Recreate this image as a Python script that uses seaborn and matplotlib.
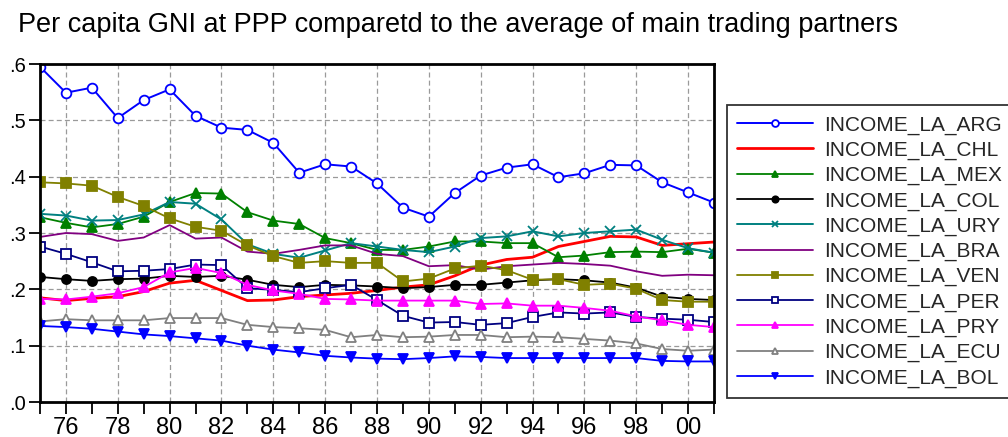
import numpy as np
import pandas as pd
import matplotlib
matplotlib.use("Agg")
import matplotlib.pyplot as plt
import seaborn as sns
from matplotlib.ticker import FixedLocator, FuncFormatter

years = list(range(1975, 2002))

income_la_arg = [0.595, 0.549, 0.558, 0.504, 0.536, 0.555, 0.508, 0.487, 0.483,
                 0.460, 0.407, 0.422, 0.418, 0.388, 0.345, 0.329, 0.371, 0.402,
                 0.416, 0.422, 0.399, 0.406, 0.421, 0.420, 0.390, 0.372, 0.354]
income_la_chl = [0.185, 0.180, 0.184, 0.187, 0.196, 0.211, 0.216, 0.198, 0.180,
                 0.181, 0.187, 0.190, 0.193, 0.198, 0.204, 0.208, 0.224, 0.243,
                 0.253, 0.257, 0.276, 0.285, 0.294, 0.293, 0.278, 0.281, 0.284]
income_la_mex = [0.328, 0.318, 0.310, 0.316, 0.329, 0.355, 0.371, 0.370, 0.337,
                 0.322, 0.316, 0.291, 0.282, 0.270, 0.270, 0.276, 0.285, 0.285,
                 0.282, 0.282, 0.257, 0.260, 0.266, 0.267, 0.266, 0.272, 0.265]
income_la_col = [0.222, 0.218, 0.215, 0.218, 0.219, 0.224, 0.222, 0.224, 0.217,
                 0.208, 0.204, 0.208, 0.207, 0.205, 0.202, 0.204, 0.208, 0.208,
                 0.212, 0.216, 0.218, 0.216, 0.212, 0.203, 0.187, 0.183, 0.181]
income_la_ury = [0.334, 0.331, 0.322, 0.323, 0.333, 0.355, 0.352, 0.324, 0.280,
                 0.263, 0.256, 0.269, 0.282, 0.276, 0.270, 0.266, 0.276, 0.291,
                 0.294, 0.303, 0.294, 0.300, 0.303, 0.306, 0.288, 0.273, 0.265]
income_la_bra = [0.293, 0.300, 0.298, 0.286, 0.292, 0.314, 0.290, 0.292, 0.267,
                 0.263, 0.270, 0.278, 0.278, 0.263, 0.259, 0.241, 0.243, 0.235,
                 0.241, 0.244, 0.247, 0.245, 0.242, 0.232, 0.224, 0.226, 0.225]
income_la_ven = [0.390, 0.388, 0.384, 0.364, 0.348, 0.326, 0.311, 0.304, 0.278,
                 0.259, 0.247, 0.250, 0.247, 0.247, 0.214, 0.219, 0.237, 0.242,
                 0.234, 0.217, 0.218, 0.208, 0.210, 0.201, 0.181, 0.178, 0.178]
income_la_per = [0.276, 0.263, 0.248, 0.232, 0.233, 0.236, 0.244, 0.243, 0.202,
                 0.199, 0.195, 0.202, 0.208, 0.181, 0.153, 0.141, 0.142, 0.137,
                 0.140, 0.151, 0.159, 0.157, 0.159, 0.151, 0.148, 0.146, 0.142]
income_la_pry = [0.183, 0.182, 0.187, 0.193, 0.204, 0.230, 0.238, 0.229, 0.208,
                 0.198, 0.192, 0.183, 0.182, 0.180, 0.180, 0.180, 0.180, 0.174,
                 0.175, 0.171, 0.171, 0.167, 0.162, 0.152, 0.145, 0.137, 0.133]
income_la_ecu = [0.143, 0.147, 0.145, 0.145, 0.145, 0.149, 0.149, 0.149, 0.137,
                 0.133, 0.131, 0.128, 0.115, 0.119, 0.115, 0.116, 0.119, 0.119,
                 0.115, 0.116, 0.115, 0.112, 0.109, 0.104, 0.094, 0.091, 0.093]
income_la_bol = [0.135, 0.133, 0.130, 0.125, 0.120, 0.117, 0.113, 0.109, 0.100,
                 0.093, 0.088, 0.082, 0.079, 0.077, 0.076, 0.078, 0.081, 0.080,
                 0.078, 0.078, 0.078, 0.078, 0.078, 0.078, 0.073, 0.072, 0.072]

series_names = ["INCOME_LA_ARG", "INCOME_LA_CHL", "INCOME_LA_MEX", "INCOME_LA_COL",
                "INCOME_LA_URY", "INCOME_LA_BRA", "INCOME_LA_VEN", "INCOME_LA_PER",
                "INCOME_LA_PRY", "INCOME_LA_ECU", "INCOME_LA_BOL"]
series_values = [income_la_arg, income_la_chl, income_la_mex, income_la_col,
                 income_la_ury, income_la_bra, income_la_ven, income_la_per,
                 income_la_pry, income_la_ecu, income_la_bol]

# line colour, marker, marker face, marker size, line width
styles = {
    "INCOME_LA_ARG": ("#0000FF", "o", "white", 7, 1.4),
    "INCOME_LA_CHL": ("#FF0000", None, None, 0, 2.0),
    "INCOME_LA_MEX": ("#008000", "^", "#008000", 7, 1.3),
    "INCOME_LA_COL": ("#000000", "o", "#000000", 6.5, 1.3),
    "INCOME_LA_URY": ("#008080", "x", "#008080", 7, 1.4),
    "INCOME_LA_BRA": ("#800080", None, None, 0, 1.3),
    "INCOME_LA_VEN": ("#808000", "s", "#808000", 6.5, 1.3),
    "INCOME_LA_PER": ("#000080", "s", "white", 6.5, 1.3),
    "INCOME_LA_PRY": ("#FF00FF", "^", "#FF00FF", 7, 1.3),
    "INCOME_LA_ECU": ("#808080", "^", "white", 7, 1.3),
    "INCOME_LA_BOL": ("#0000FF", "v", "#0000FF", 7, 1.3),
}

df = pd.DataFrame({"year": np.tile(years, len(series_names)),
                   "series": np.repeat(series_names, len(years)),
                   "value": np.concatenate(series_values)})

sns.set_style("white")
plt.rcParams["font.family"] = ["Liberation Sans", "DejaVu Sans"]

fig = plt.figure(figsize=(10.08, 4.37), dpi=100)
ax = fig.add_axes([40 / 1008, 1 - 402 / 437, 674 / 1008, 338 / 437])

for name in series_names:
    color, marker, face, msize, lw = styles[name]
    sub = df[df["series"] == name]
    kw = dict(color=color, linewidth=lw, label=name)
    if marker is not None:
        kw.update(marker=marker, markersize=msize, markerfacecolor=face,
                  markeredgecolor=color, markeredgewidth=1.3)
    sns.lineplot(data=sub, x="year", y="value", ax=ax, **kw)

ax.set_xlim(1975, 2001)
ax.set_ylim(0, 0.6)
ax.set_xlabel("")
ax.set_ylabel("")

ax.xaxis.set_major_locator(FixedLocator(list(range(1976, 2001, 2))))
ax.xaxis.set_minor_locator(FixedLocator(list(range(1975, 2002))))
ax.xaxis.set_major_formatter(FuncFormatter(lambda v, p: f"{int(v) % 100:02d}"))
ax.yaxis.set_major_locator(FixedLocator([0, 0.1, 0.2, 0.3, 0.4, 0.5, 0.6]))
ax.yaxis.set_major_formatter(FuncFormatter(lambda v, p: f".{int(round(v * 10))}"))

ax.tick_params(axis="x", which="both", direction="out", length=8.5, width=1.3,
               bottom=True, labelsize=17, pad=2, colors="black")
ax.tick_params(axis="y", which="major", direction="out", length=8, width=1.3,
               left=True, labelsize=14.5, pad=2, colors="black")

ax.grid(True, which="major", color="#9a9a9a", linestyle=(0, (4, 2.5)), linewidth=0.9)
for side in ["left", "right", "top", "bottom"]:
    ax.spines[side].set_visible(True)
    ax.spines[side].set_color("black")
    ax.spines[side].set_linewidth(2.0)

fig.text(18 / 1008, 1 - 32 / 437, "Per capita GNI at PPP comparetd to the average of main trading partners",
         fontsize=19.5, ha="left", va="baseline", color="black")

leg = ax.legend(loc="upper left", bbox_to_anchor=(727 / 1008, 1 - 105 / 437),
                bbox_transform=fig.transFigure, frameon=True, fancybox=False,
                edgecolor="black", fontsize=15, handlelength=3.65, handletextpad=0.53,
                labelspacing=0.29, borderpad=0.5, borderaxespad=0, markerscale=0.7)
leg.get_frame().set_linewidth(1.3)

fig.savefig("out.png", dpi=100, facecolor="white")
